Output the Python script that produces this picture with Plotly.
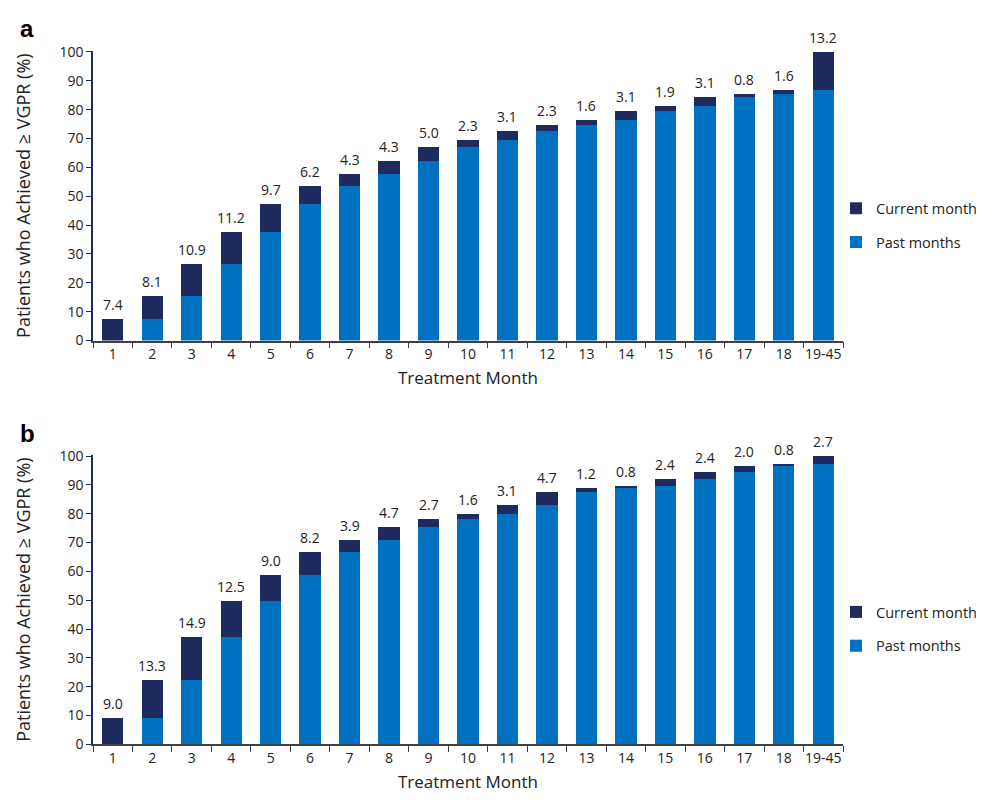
import plotly.graph_objects as go

months = ["1", "2", "3", "4", "5", "6", "7", "8", "9", "10", "11", "12",
          "13", "14", "15", "16", "17", "18", "19-45"]

# Panel a
a_current = [7.4, 8.1, 10.9, 11.2, 9.7, 6.2, 4.3, 4.3, 5.0, 2.3, 3.1, 2.3,
             1.6, 3.1, 1.9, 3.1, 0.8, 1.6, 13.2]
a_past = [0, 7.4, 15.5, 26.4, 37.6, 47.3, 53.5, 57.8, 62.1, 67.1, 69.4, 72.5,
          74.8, 76.4, 79.5, 81.4, 84.5, 85.3, 86.9]

# Panel b
b_current = [9.0, 13.3, 14.9, 12.5, 9.0, 8.2, 3.9, 4.7, 2.7, 1.6, 3.1, 4.7,
             1.2, 0.8, 2.4, 2.4, 2.0, 0.8, 2.7]
b_past = [0, 9.0, 22.3, 37.2, 49.7, 58.7, 66.9, 70.8, 75.5, 78.2, 79.8, 82.9,
          87.6, 88.8, 89.6, 92.0, 94.4, 96.4, 97.2]

yticks = [0, 10, 20, 30, 40, 50, 60, 70, 80, 90, 100]

C_CUR = "#1f2a5e"
C_PAST = "#0070c0"
FONT = "Open Sans"
TXT = "#222222"
W, H = 984, 803

fig = go.Figure()

panels = [
    ("x", "y", a_past, a_current, "legend"),
    ("x2", "y2", b_past, b_current, "legend2"),
]

annotations = []
for xa, ya, past, cur, leg in panels:
    fig.add_trace(go.Bar(x=months, y=past, name="Past months", marker_color=C_PAST,
                         marker_line_width=0, xaxis=xa, yaxis=ya, legend=leg,
                         legendgroup="past" + leg, legendrank=2, hoverinfo="x+y"))
    fig.add_trace(go.Bar(x=months, y=cur, name="Current month", marker_color=C_CUR,
                         marker_line_width=0, xaxis=xa, yaxis=ya, legend=leg,
                         legendgroup="cur" + leg, legendrank=1, hoverinfo="x+y"))
    for i, (p, c) in enumerate(zip(past, cur)):
        annotations.append(dict(text=f"{c:.1f}", x=i, y=p + c, xref=xa, yref=ya,
                                xanchor="center", yanchor="bottom", yshift=3,
                                showarrow=False,
                                font=dict(family=FONT, size=14, color=TXT)))

xdom = [85 / W, 835 / W]
ydom_a = [1 - 331 / H, 1 - 34.5 / H]
ydom_b = [1 - 744 / H, 1 - 448 / H]

xcommon = dict(domain=xdom, type="category", tickson="boundaries", ticks="outside",
               ticklen=6, tickcolor="#404040", showline=True, linecolor="#404040",
               linewidth=1.5, showgrid=False, zeroline=False, tickangle=0,
               tickfont=dict(family=FONT, size=14, color=TXT),
               title=dict(text="Treatment Month", standoff=10,
                          font=dict(family=FONT, size=17, color=TXT)))
ycommon = dict(range=[0, 100.4], tickvals=yticks, ticks="outside", ticklen=5,
               tickcolor="#1f2a5e", showline=True, linecolor="#1f2a5e", linewidth=1.5,
               showgrid=False, zeroline=False,
               tickfont=dict(family=FONT, size=14, color=TXT),
               title=dict(text="Patients who Achieved \u2265 VGPR (%)", standoff=24,
                          font=dict(family=FONT, size=18, color=TXT)))

for ann_text, ypx in (("<b>a</b>", 12), ("<b>b</b>", 426)):
    annotations.append(dict(text=ann_text, x=10 / W, y=1 - ypx / H, xref="paper",
                            yref="paper", xanchor="left", yanchor="middle",
                            showarrow=False,
                            font=dict(family="Liberation Sans", size=24, color="#000000")))

legcommon = dict(xanchor="left", yanchor="middle", traceorder="grouped",
                 tracegroupgap=12, font=dict(family=FONT, size=14.5, color=TXT),
                 bgcolor="rgba(0,0,0,0)")

fig.update_layout(
    width=W, height=H,
    margin=dict(l=0, r=0, t=0, b=0),
    plot_bgcolor="white", paper_bgcolor="white",
    barmode="stack", bargap=0.46,
    font=dict(family=FONT, size=14, color=TXT),
    xaxis=dict(xcommon, anchor="y"),
    yaxis=dict(ycommon, domain=ydom_a, anchor="x"),
    xaxis2=dict(xcommon, anchor="y2"),
    yaxis2=dict(ycommon, domain=ydom_b, anchor="x2"),
    legend=dict(legcommon, x=828 / W, y=1 - 213 / H),
    legend2=dict(legcommon, x=828 / W, y=1 - 626 / H),
    annotations=annotations,
)

fig.write_html("out.html")
